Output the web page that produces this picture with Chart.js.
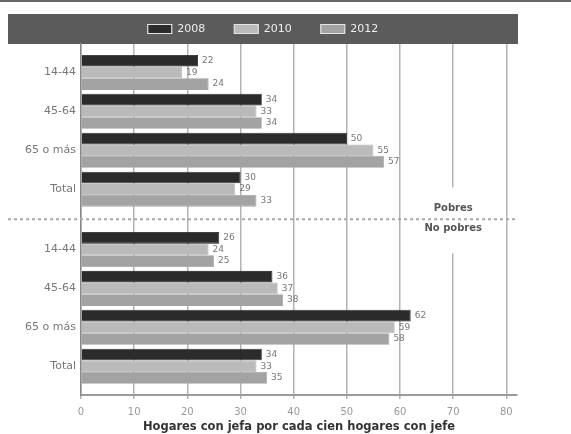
<!DOCTYPE html>
<html lang="es">
<head>
<meta charset="UTF-8">
<title>Hogares con jefa por cada cien hogares con jefe</title>
<script src="https://cdn.jsdelivr.net/npm/chart.js@4"></script>
<style>
body{margin:0;background:#fff;}
canvas{display:block;}
</style>
</head>
<body>
<canvas id="c" width="571" height="434"></canvas>
<script>
// grupos de edad (se repiten para pobres / no pobres)
const grupos = ["14-44", "45-64", "65 o más", "Total"];
const years = ["2008", "2010", "2012"];
const xTicks = [0, 10, 20, 30, 40, 50, 60, 70, 80];

const pobres2008 = [22, 34, 50, 30];
const pobres2010 = [19, 33, 55, 29];
const pobres2012 = [24, 34, 57, 33];
const noPobres2008 = [26, 36, 62, 34];
const noPobres2010 = [24, 37, 59, 33];
const noPobres2012 = [25, 38, 58, 35];

const colors = ["#2b2b2b", "#bababa", "#a3a3a3"];

// posición en el eje: los dos bloques van separados por un hueco
const GAP = 0.55;
const pos = i => i < grupos.length ? i : i + GAP;
const catLabels = grupos.concat(grupos);
const positions = catLabels.map((_, i) => pos(i));

function serie(a, b) {
  return a.concat(b).map((v, i) => ({x: v, y: pos(i)}));
}
const series = [serie(pobres2008, noPobres2008), serie(pobres2010, noPobres2010), serie(pobres2012, noPobres2012)];

const FONT = "'DejaVu Sans', Arial, sans-serif";

const extras = {
  id: "extras",
  beforeLayout(chart) {
    const lg = chart.legend;
    if (lg && !lg._fixed) {
      const f = lg.fit.bind(lg);
      lg.fit = function () { f(); this.height = 30; };
      lg._fixed = true;
    }
  },
  afterLayout(chart) {
    // centrar los elementos de la leyenda en la franja gris
    const lg = chart.legend;
    lg.top = 29 - lg.options.labels.padding - 5.5;
    lg.bottom = 44;
    lg.height = lg.bottom - lg.top;
  },
  beforeDraw(chart) {
    const ctx = chart.ctx;
    ctx.save();
    ctx.fillStyle = "#666";
    ctx.fillRect(0, 0, 571, 2);
    ctx.fillStyle = "#5b5b5b";
    ctx.fillRect(8, 14, 510, 30);
    ctx.restore();
  },
  afterDatasetsDraw(chart) {
    const ctx = chart.ctx;
    ctx.save();
    ctx.font = "9px " + FONT;
    ctx.fillStyle = "#777";
    ctx.textBaseline = "middle";
    chart.data.datasets.forEach((ds, d) => {
      chart.getDatasetMeta(d).data.forEach((el, i) => {
        ctx.fillText(ds.data[i].x, el.x + 4, el.y);
      });
    });
    ctx.restore();
  },
  afterDraw(chart) {
    const ctx = chart.ctx, xs = chart.scales.x, ys = chart.scales.y;
    const gx = xs.getPixelForValue(70);
    const sepY = ys.getPixelForValue((grupos.length - 1 + grupos.length + GAP) / 2);
    ctx.save();
    ctx.fillStyle = "#fff";
    ctx.fillRect(gx - 3, sepY - 32, 6, 66);
    ctx.strokeStyle = "#a8a8a8";
    ctx.lineWidth = 2;
    ctx.setLineDash([3, 3]);
    ctx.beginPath();
    ctx.moveTo(8, sepY);
    ctx.lineTo(518, sepY);
    ctx.stroke();
    ctx.setLineDash([]);
    ctx.fillStyle = "#555";
    ctx.font = "bold 10px " + FONT;
    ctx.textAlign = "center";
    ctx.textBaseline = "middle";
    ctx.fillText("Pobres", gx, sepY - 11);
    ctx.fillText("No pobres", gx, sepY + 9);
    ctx.restore();
  }
};

new Chart(document.getElementById("c"), {
  type: "bar",
  data: {
    datasets: years.map((y, k) => ({
      label: y,
      data: series[k],
      backgroundColor: colors[k],
      borderColor: k === 0 ? "#151515" : colors[k],
      borderWidth: 0.8
    }))
  },
  options: {
    responsive: false,
    animation: false,
    indexAxis: "y",
    categoryPercentage: 0.9,
    barPercentage: 1,
    layout: {padding: {top: 14, left: 9, right: 54, bottom: 0}},
    plugins: {
      tooltip: {enabled: false},
      legend: {
        position: "top",
        labels: {
          boxWidth: 24,
          boxHeight: 9,
          padding: 29,
          color: "#eee",
          font: {family: FONT, size: 11},
          generateLabels(chart) {
            return Chart.defaults.plugins.legend.labels.generateLabels(chart).map(it => {
              it.strokeStyle = "#e4e4e4";
              it.lineWidth = 1.2;
              return it;
            });
          }
        }
      }
    },
    scales: {
      x: {
        type: "linear",
        min: 0,
        max: 82,
        afterBuildTicks(scale) { scale.ticks = xTicks.map(v => ({value: v})); },
        afterFit(scale) { scale.height = 39; },
        grid: {color: "#b3b3b3", lineWidth: 1.5, tickLength: 4, drawTicks: true},
        border: {color: "#9a9a9a", width: 2},
        ticks: {color: "#999", font: {family: FONT, size: 10}, padding: 7, maxRotation: 0},
        title: {
          display: true,
          text: "Hogares con jefa por cada cien hogares con jefe",
          color: "#333",
          font: {family: FONT, size: 11.5, weight: "bold"},
          padding: {top: 0, bottom: 0}
        }
      },
      y: {
        type: "linear",
        reverse: true,
        offset: false,
        min: -0.73,
        max: 7 + GAP + 0.74,
        afterBuildTicks(scale) { scale.ticks = positions.map(v => ({value: v})); },
        afterFit(scale) { scale.width = 72; },
        grid: {color: "rgba(0,0,0,0)", drawTicks: false, offset: false},
        border: {color: "#888", width: 1.5},
        ticks: {
          autoSkip: false,
          color: "#777",
          padding: 5,
          font: {family: FONT, size: 11},
          callback: (v, i) => catLabels[i]
        }
      }
    }
  },
  plugins: [extras]
});
</script>
</body>
</html>
